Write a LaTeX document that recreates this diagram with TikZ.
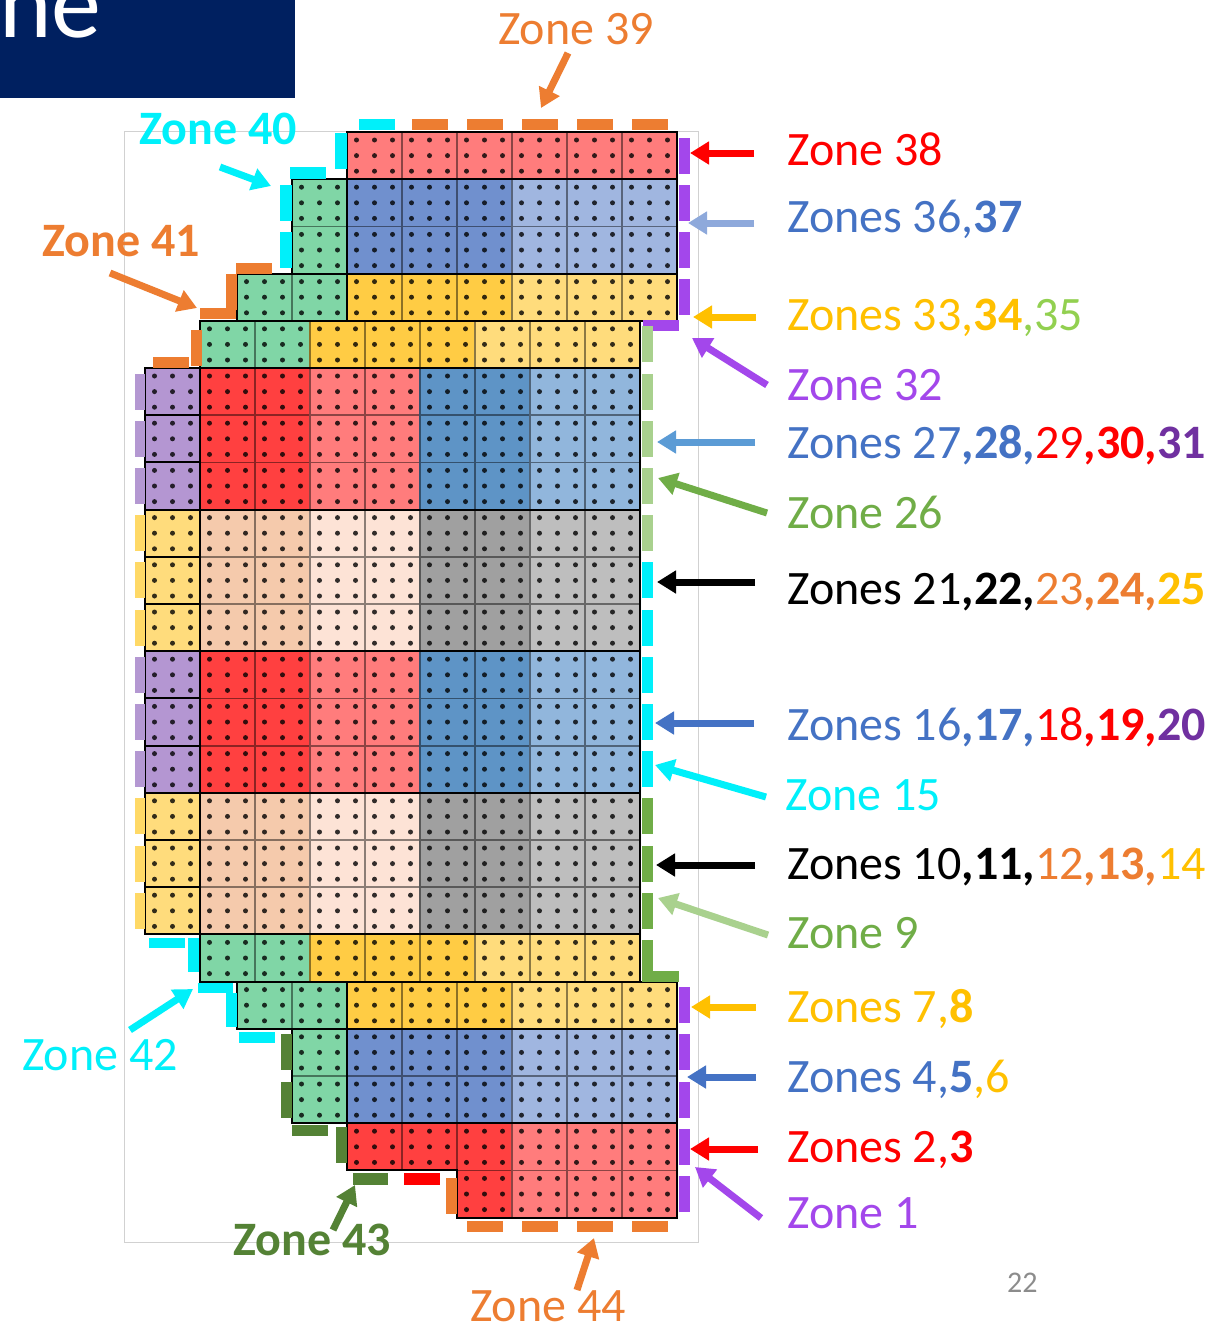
\documentclass[tikz,border=0pt]{standalone}
\usepackage{fontspec}
\setmainfont{Carlito}
\usetikzlibrary{arrows.meta}
% cell fills
\definecolor{zLR}{RGB}{255,124,124}
\definecolor{zBR}{RGB}{255,64,64}
\definecolor{zLav}{RGB}{180,150,210}
\definecolor{zSB}{RGB}{94,148,198}
\definecolor{zLSB}{RGB}{145,182,220}
\definecolor{zDB}{RGB}{112,144,206}
\definecolor{zLB}{RGB}{160,182,224}
\definecolor{zDY}{RGB}{255,204,68}
\definecolor{zLY}{RGB}{255,220,124}
\definecolor{zG}{RGB}{128,214,166}
\definecolor{zPe}{RGB}{245,202,172}
\definecolor{zLPe}{RGB}{253,227,214}
\definecolor{zGr}{RGB}{160,160,160}
\definecolor{zLGr}{RGB}{190,190,190}
% text / dash colours
\definecolor{tOr}{RGB}{237,125,49}
\definecolor{tCy}{RGB}{0,240,250}
\definecolor{tRed}{RGB}{255,0,0}
\definecolor{tBl}{RGB}{68,114,196}
\definecolor{tLBl}{RGB}{142,169,219}
\definecolor{tMBl}{RGB}{91,155,213}
\definecolor{tYe}{RGB}{255,192,0}
\definecolor{tLGn}{RGB}{146,208,80}
\definecolor{tPu}{RGB}{163,71,235}
\definecolor{tDPu}{RGB}{112,48,160}
\definecolor{tGn}{RGB}{112,173,71}
\definecolor{tPGn}{RGB}{169,209,142}
\definecolor{tDGn}{RGB}{84,130,53}
\definecolor{navy}{RGB}{0,32,96}
\definecolor{dLav}{RGB}{180,152,210}
\definecolor{dLY}{RGB}{255,217,102}
\definecolor{pgGray}{RGB}{140,140,140}

\newcommand\zcell[3]{%
  \pgfmathsetmacro\xx{#1}\pgfmathsetmacro\yy{132+47.2*(#2)}%
  \filldraw[fill=#3,draw=#3!55!black,line width=1.8pt] (\xx,\yy) rectangle ++(55,47.2);
  \foreach \dx in {9.5,27.5,45.5}{\foreach \dy in {8,23.6,39.2}{\fill[#3!20!black] (\xx+\dx,\yy+\dy) circle[radius=2.5pt];}}%
}
% S grid: x = 237+55k ; M grid: x = 145+55k
\newcommand\rowTopBlue[1]{%
  \zcell{292}{#1}{zG}%
  \foreach \k in {2,3,4}{\zcell{237+55*\k}{#1}{zDB}}%
  \foreach \k in {5,6,7}{\zcell{237+55*\k}{#1}{zLB}}}
\newcommand\rowYS[1]{%
  \zcell{237}{#1}{zG}\zcell{292}{#1}{zG}%
  \foreach \k in {2,3,4}{\zcell{237+55*\k}{#1}{zDY}}%
  \foreach \k in {5,6,7}{\zcell{237+55*\k}{#1}{zLY}}}
\newcommand\rowYM[1]{%
  \zcell{200}{#1}{zG}\zcell{255}{#1}{zG}%
  \foreach \k in {3,4,5}{\zcell{145+55*\k}{#1}{zDY}}%
  \foreach \k in {6,7,8}{\zcell{145+55*\k}{#1}{zLY}}}
\newcommand\rowAA[1]{%
  \zcell{145}{#1}{zLav}%
  \foreach \k in {1,2}{\zcell{145+55*\k}{#1}{zBR}}%
  \foreach \k in {3,4}{\zcell{145+55*\k}{#1}{zLR}}%
  \foreach \k in {5,6}{\zcell{145+55*\k}{#1}{zSB}}%
  \foreach \k in {7,8}{\zcell{145+55*\k}{#1}{zLSB}}}
\newcommand\rowBB[1]{%
  \zcell{145}{#1}{zLY}%
  \foreach \k in {1,2}{\zcell{145+55*\k}{#1}{zPe}}%
  \foreach \k in {3,4}{\zcell{145+55*\k}{#1}{zLPe}}%
  \foreach \k in {5,6}{\zcell{145+55*\k}{#1}{zGr}}%
  \foreach \k in {7,8}{\zcell{145+55*\k}{#1}{zLGr}}}

\tikzset{
  lab/.style={anchor=base west,inner sep=0pt,font=\fontsize{48}{52}\selectfont},
  labb/.style={lab,font=\fontsize{48}{52}\selectfont\bfseries},
  zarr/.style={line width=7pt,-{Triangle[length=19pt,width=22pt]}},
  blk/.style={draw=black,line width=2pt}
}

\begin{document}
\begin{tikzpicture}[x=1pt,y=-1pt]
\useasboundingbox (0,0) rectangle (1214,1333);
\fill[white] (0,0) rectangle (1214,1333);

% title box
\fill[navy] (0,0) rectangle (295,98);
\begin{scope}
  \clip (0,0) rectangle (295,98);
  \node[anchor=base west,inner sep=0pt,text=white,font=\fontsize{100}{100}\selectfont] (title) at (-1,37) {ne};
\end{scope}

% light frame
\draw[black!18,line width=1pt] (124,131) rectangle (698,1242);

% ---- cells ----
\foreach \k in {2,...,7}{\zcell{237+55*\k}{0}{zLR}}
\rowTopBlue{1}\rowTopBlue{2}
\rowYS{3}
\rowYM{4}
\rowAA{5}\rowAA{6}\rowAA{7}
\rowBB{8}\rowBB{9}\rowBB{10}
\rowAA{11}\rowAA{12}\rowAA{13}
\rowBB{14}\rowBB{15}\rowBB{16}
\rowYM{17}
\rowYS{18}
\rowTopBlue{19}\rowTopBlue{20}
\foreach \k in {2,3,4}{\zcell{237+55*\k}{21}{zBR}}
\foreach \k in {5,6,7}{\zcell{237+55*\k}{21}{zLR}}
\zcell{457}{22}{zBR}
\foreach \k in {5,6,7}{\zcell{237+55*\k}{22}{zLR}}

% ---- black outlines ----
\draw[blk] (347,132) -- (677,132) -- (677,320.8) -- (640,320.8) -- (640,981.6) -- (677,981.6)
  -- (677,1217.6) -- (457,1217.6) -- (457,1170.4) -- (347,1170.4) -- (347,1123.2)
  -- (292,1123.2) -- (292,1028.8) -- (237,1028.8) -- (237,981.6) -- (200,981.6)
  -- (200,934.4) -- (145,934.4) -- (145,368) -- (200,368) -- (200,320.8) -- (237,320.8)
  -- (237,273.6) -- (292,273.6) -- (292,179.2) -- (347,179.2) -- cycle;
\foreach \yv/\xa/\xb in {179.2/292/677, 273.6/237/677, 320.8/200/640, 368/145/640,
  509.6/145/640, 651.2/145/640, 792.8/145/640, 934.4/145/640, 981.6/200/640,
  1028.8/237/677, 1123.2/292/677}
  {\draw[blk] (\xa,\yv) -- (\xb,\yv);}
\draw[blk] (347,179.2) -- (347,320.8);
\draw[blk] (200,368) -- (200,934.4);
\draw[blk] (347,981.6) -- (347,1123.2);
\foreach \r in {6,7,9,10,12,13,15,16}{\draw[blk] (145,132+47.2*\r) -- (200,132+47.2*\r);}

% ---- perimeter dashes ----
% top
\fill[tCy] (359,119) rectangle (395,130);
\foreach \k in {3,...,7}{\fill[tOr] (237+55*\k+9.5,119) rectangle ++(36,11);}
% right, top block
\foreach \r in {0,...,3}{\fill[tPu] (679,132+47.2*\r+5.6) rectangle ++(11,36);}
\fill[tPu] (643,320) rectangle (679,331);
% right, middle block
\foreach \r in {4,...,8}{\fill[tPGn] (642,132+47.2*\r+5.6) rectangle ++(11,36);}
\foreach \r in {9,...,13}{\fill[tCy] (642,132+47.2*\r+5.6) rectangle ++(11,36);}
\foreach \r in {14,...,17}{\fill[tGn] (642,132+47.2*\r+5.6) rectangle ++(11,36);}
\fill[tGn] (642,971) rectangle (679,982);
% right, bottom block
\foreach \r in {18,...,22}{\fill[tPu] (679,132+47.2*\r+5.6) rectangle ++(11,36);}
% bottom
\foreach \k in {4,...,7}{\fill[tOr] (237+55*\k+9.5,1221) rectangle ++(36,11);}
\fill[tOr] (446,1178) rectangle (457,1214);
\fill[tRed] (404,1173) rectangle (440,1185);
\fill[tDGn] (353,1173) rectangle (388,1185);
\fill[tDGn] (336,1127) rectangle (347,1163);
\fill[tDGn] (292,1125) rectangle (328,1136);
\foreach \r in {19,20}{\fill[tDGn] (281,132+47.2*\r+5.6) rectangle ++(11,36);}
% lower left steps
\fill[tCy] (239,1032) rectangle (275,1043);
\fill[tCy] (226,993) rectangle (237,1027);
\fill[tCy] (198,983) rectangle (233,993);
\fill[tCy] (188,938) rectangle (199,972);
\fill[tCy] (149,938) rectangle (185,948);
% left column
\foreach \r in {5,6,7,11,12,13}{\fill[dLav] (135,132+47.2*\r+5.6) rectangle ++(10,36);}
\foreach \r in {8,9,10,14,15,16}{\fill[dLY] (135,132+47.2*\r+5.6) rectangle ++(10,36);}
% upper left steps
\fill[tOr] (153,357) rectangle (189,368);
\fill[tOr] (191,330) rectangle (202,366);
\fill[tOr] (200,308) rectangle (236,319);
\fill[tOr] (226,274) rectangle (237,310);
\fill[tOr] (236,263) rectangle (272,274);
\foreach \r in {1,2}{\fill[tCy] (280,132+47.2*\r+5.6) rectangle ++(12,36);}
\fill[tCy] (290,167) rectangle (326,179);
\fill[tCy] (335,133) rectangle (347,169);

% ---- labels ----
\node[lab,text=tOr] (l39) at (498,44) {Zone 39};
\node[labb,text=tCy] (l40) at (139,144) {Zone 40};
\node[labb,text=tOr] (l41) at (42,256) {Zone 41};
\node[lab,text=tCy] (l42) at (22,1070) {Zone 42};
\node[labb,text=tDGn] (l43) at (233,1255) {Zone 43};
\node[lab,text=tOr] (l44) at (470,1321) {Zone 44};

\node[lab,text=tRed] (l38) at (787,165) {Zone 38};
\node[lab,text=tBl] (l36) at (787,232) {Zones 36,\textbf{37}};
\node[lab] (l33) at (787,330) {\color{tYe}Zones 33,\textbf{34}\color{tLGn},35};
\node[lab,text=tPu] (l32) at (787,400) {Zone 32};
\node[lab] (l27) at (787,458) {\color{tBl}Zones 27\textbf{,28,}\color{tRed}29\textbf{,30,}\color{tDPu}\textbf{31}};
\node[lab,text=tGn] (l26) at (787,528) {Zone 26};
\node[lab] (l21) at (787,604) {\color{black}Zones 21\textbf{,22,}\color{tOr}23\textbf{,24,}\color{tYe}\textbf{25}};
\node[lab] (l16) at (787,740) {\color{tBl}Zones 16\textbf{,17,}\color{tRed}18\textbf{,19,}\color{tDPu}\textbf{20}};
\node[lab,text=tCy] (l15) at (785,810) {Zone 15};
\node[lab] (l10) at (787,879) {\color{black}Zones 10\textbf{,11,}\color{tOr}12\textbf{,13,}\color{tYe}14};
\node[lab,text=tGn] (l9) at (787,948) {Zone 9};
\node[lab,text=tYe] (l7) at (787,1022) {Zones 7,\textbf{8}};
\node[lab] (l4) at (787,1092) {\color{tBl}Zones 4,\textbf{5}\color{tYe},6};
\node[lab,text=tRed] (l2) at (787,1162) {Zones 2,\textbf{3}};
\node[lab,text=tPu] (l1) at (787,1228) {Zone 1};
\node[anchor=base west,inner sep=0pt,text=pgGray,font=\fontsize{30}{32}\selectfont] (pg) at (1007,1292) {22};

% ---- arrows ----
\foreach \n/\tx/\ty/\hx/\hy/\c in {
  39/568/53/541/108/tOr, 40/220/167/271/186/tCy, 41/110/273/197/308/tOr,
  38/754/153/690/153/tRed, 36/754/223/688/223/tLBl, 33/756/317/693/317/tYe,
  32/767/385/692/338/tPu, 27/755/442/657/442/tMBl, 26/767/513/658/478/tGn,
  21/755/582/657/582/black, 16/754/723/655/723/tBl, 15/766/797/655/765/tCy,
  10/755/865/656/865/black, 9/768/935/658/898/tPGn, 7/756/1007/691/1007/tYe,
  4/756/1077/687/1077/tBl, 2/758/1149/690/1149/tRed, 1/761/1218/695/1167/tPu,
  42/130/1030/193/989/tCy, 43/333/1230/355/1185/tDGn, 44/577/1290/594/1238/tOr}
{
  \coordinate (t\n) at (\tx,\ty);
  \coordinate (h\n) at (\hx,\hy);
  \draw[zarr,draw=\c,fill=\c] (t\n) -- (h\n);
}
\end{tikzpicture}
\end{document}
